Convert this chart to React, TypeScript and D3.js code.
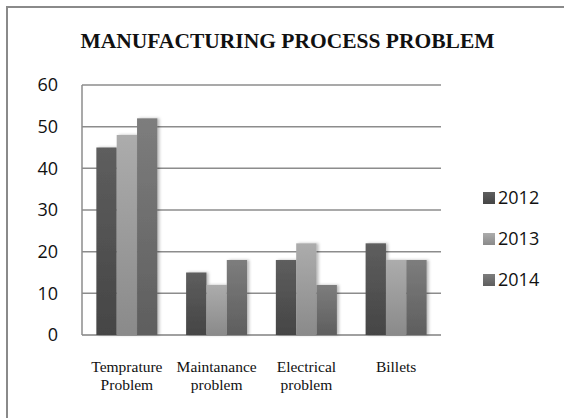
import React from "react";
import * as d3 from "d3";

// Chart data
const categories: string[][] = [
  ["Temprature", "Problem"],
  ["Maintanance", "problem"],
  ["Electrical", "problem"],
  ["Billets"],
];
const seriesNames = ["2012", "2013", "2014"];
const values2012 = [45, 15, 18, 22];
const values2013 = [48, 12, 22, 18];
const values2014 = [52, 18, 12, 18];
const yTicks = [0, 10, 20, 30, 40, 50, 60];

const W = 564;
const H = 418;
const margin = { left: 82, right: 441, top: 85, bottom: 335 };

// top/bottom gradient stops per series
const seriesColors = [
  ["#5e5e5e", "#454545"],
  ["#acacac", "#8a8a8a"],
  ["#7d7d7d", "#5e5e5e"],
];

export default function App() {
  const allValues = [values2012, values2013, values2014];
  const catKeys = categories.map((c) => c.join(" "));

  const x0 = d3
    .scaleBand<string>()
    .domain(catKeys)
    .range([margin.left, margin.right])
    .paddingInner(0.32)
    .paddingOuter(0.16);
  const x1 = d3
    .scaleBand<string>()
    .domain(seriesNames)
    .range([0, x0.bandwidth()]);
  const y = d3.scaleLinear().domain([0, 60]).range([margin.bottom, margin.top]);

  const legendY = [198, 239, 280];

  return (
    <svg
      width={W}
      height={H}
      style={{ position: "absolute", left: 0, top: 0, background: "#fff" }}
    >
      <defs>
        {seriesColors.map((c, i) => (
          <linearGradient key={i} id={`grad${i}`} x1="0" y1="0" x2="0" y2="1">
            <stop offset="0%" stopColor={c[0]} />
            <stop offset="100%" stopColor={c[1]} />
          </linearGradient>
        ))}
        <filter id="barShadow" x="-20%" y="-5%" width="160%" height="110%">
          <feDropShadow dx="2" dy="0" stdDeviation="1.8" floodColor="#000" floodOpacity="0.28" />
        </filter>
      </defs>

      {/* chart frame */}
      <rect x={7} y={7} width={700} height={600} fill="none" stroke="#8a8a8a" strokeWidth={2} />

      {/* title */}
      <text
        x={287.5}
        y={48}
        textAnchor="middle"
        fontFamily="'Liberation Serif', 'Times New Roman', serif"
        fontWeight="bold"
        fontSize={21.5}
        fill="#111"
      >
        MANUFACTURING PROCESS PROBLEM
      </text>

      {/* gridlines */}
      {yTicks.map((t) => (
        <line
          key={t}
          x1={margin.left}
          x2={margin.right}
          y1={y(t)}
          y2={y(t)}
          stroke={t === 0 ? "#a0a0a0" : "#8c8c8c"}
          strokeWidth={t === 0 ? 2 : 1.5}
        />
      ))}
      {/* y axis */}
      <line x1={margin.left} x2={margin.left} y1={y(60)} y2={y(0)} stroke="#8c8c8c" strokeWidth={1.5} />

      {/* y tick labels */}
      {yTicks.map((t) => (
        <text
          key={t}
          x={58}
          y={y(t)}
          dy="0.36em"
          textAnchor="end"
          fontFamily="'Open Sans', sans-serif"
          fontSize={18}
          fill="#111"
        >
          {t}
        </text>
      ))}

      {/* bars */}
      {catKeys.map((k, ci) => (
        <g key={k} transform={`translate(${x0(k)},0)`}>
          {seriesNames.map((s, si) => {
            const v = allValues[si][ci];
            return (
              <rect
                key={s}
                x={x1(s)}
                y={y(v)}
                width={x1.bandwidth()}
                height={y(0) - y(v)}
                fill={`url(#grad${si})`}
                filter="url(#barShadow)"
              />
            );
          })}
        </g>
      ))}

      {/* category labels */}
      {categories.map((lines, ci) => (
        <text
          key={ci}
          x={(x0(catKeys[ci]) as number) + x0.bandwidth() / 2}
          y={372}
          textAnchor="middle"
          fontFamily="'Liberation Serif', 'Times New Roman', serif"
          fontSize={15.5}
          fill="#111"
        >
          {lines.map((l, li) => (
            <tspan key={li} x={(x0(catKeys[ci]) as number) + x0.bandwidth() / 2} dy={li === 0 ? 0 : 18}>
              {l}
            </tspan>
          ))}
        </text>
      ))}

      {/* legend */}
      {seriesNames.map((s, si) => (
        <g key={s} transform={`translate(483,${legendY[si]})`}>
          <rect x={0} y={-6} width={12} height={12} fill={`url(#grad${si})`} />
          <text
            x={15}
            y={0}
            dy="0.36em"
            fontFamily="'Open Sans', sans-serif"
            fontSize={18}
            fill="#111"
          >
            {s}
          </text>
        </g>
      ))}
    </svg>
  );
}
